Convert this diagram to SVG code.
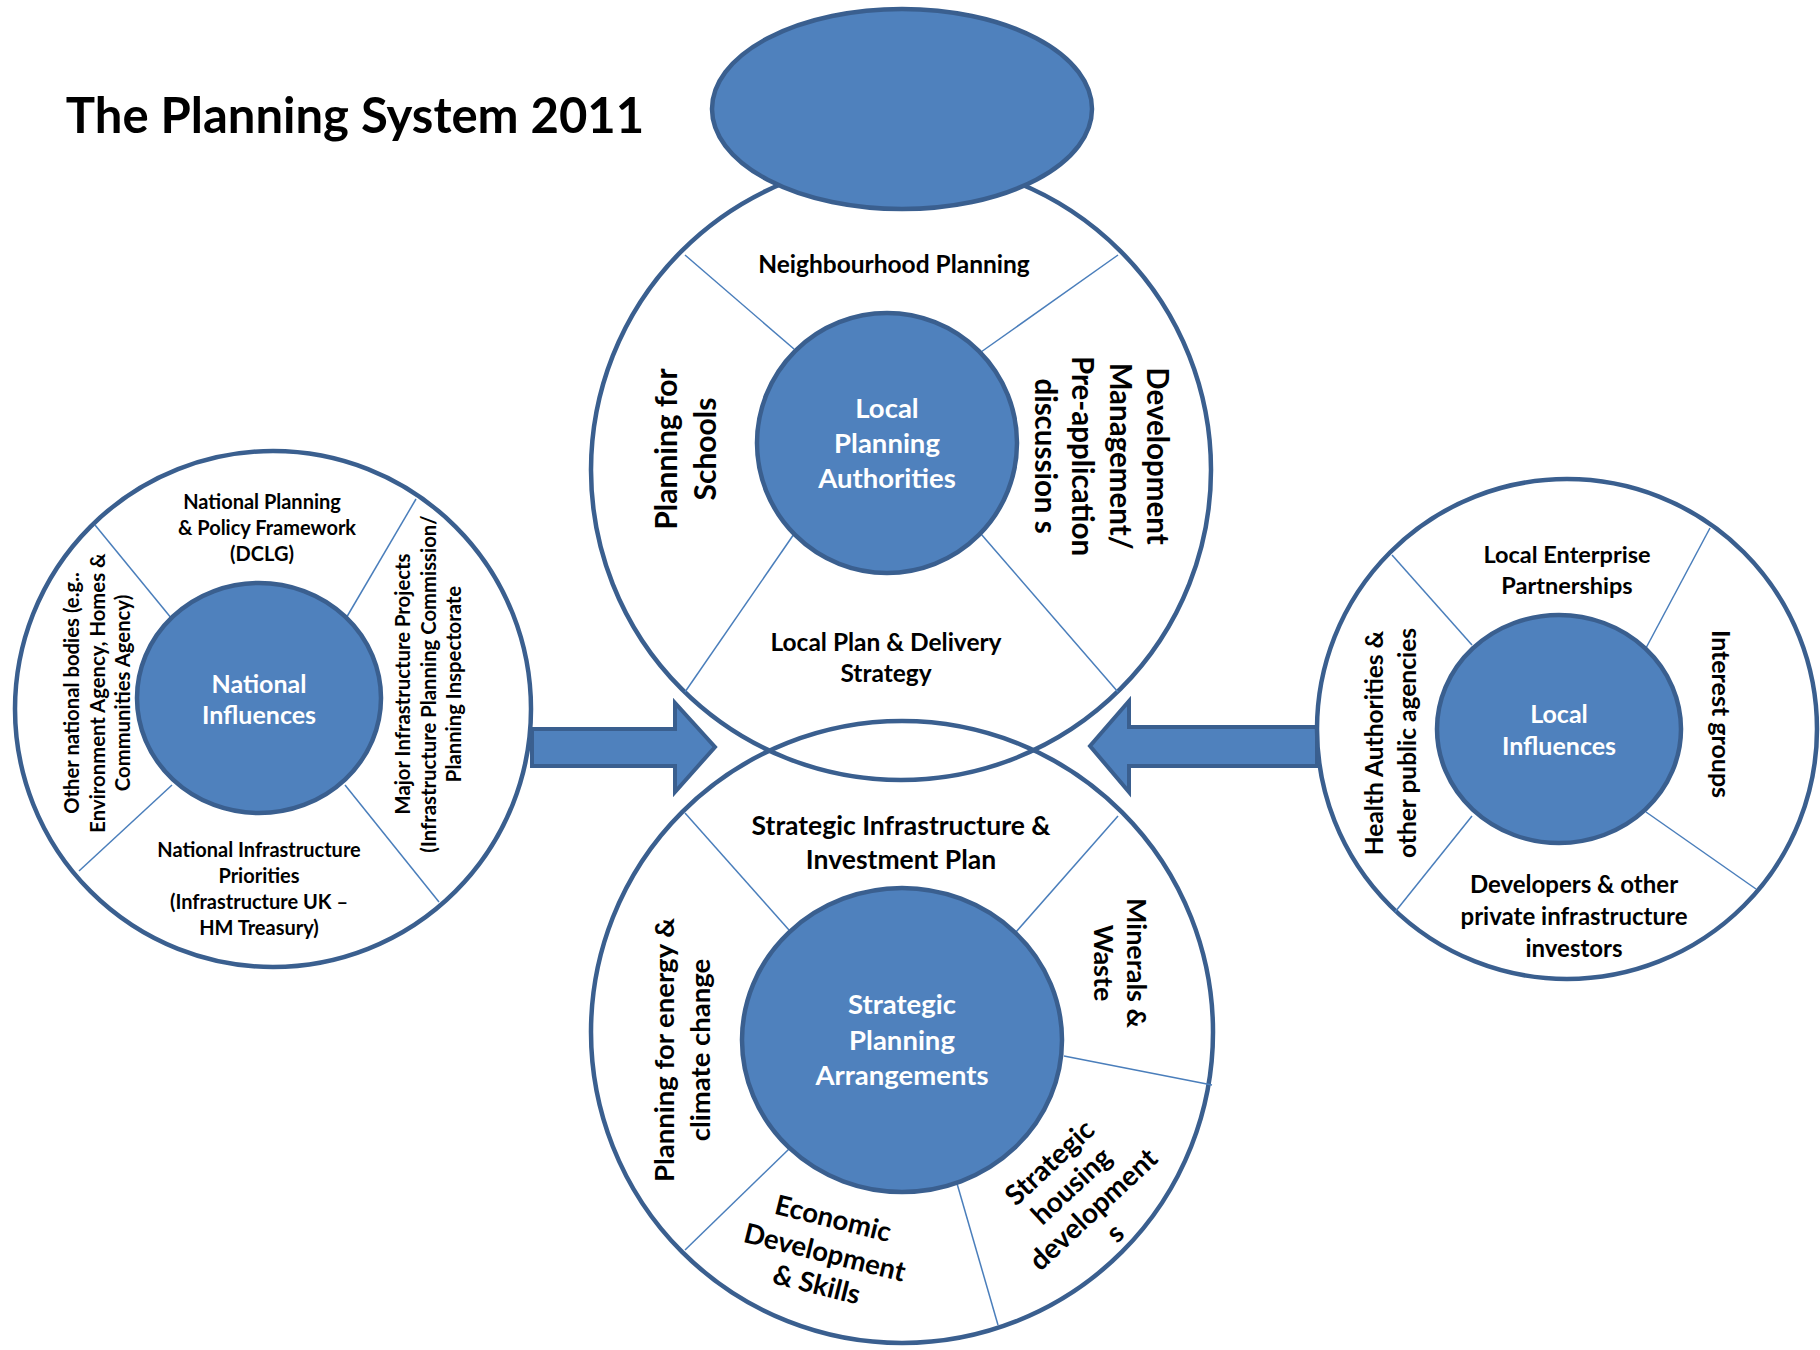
<svg xmlns="http://www.w3.org/2000/svg" width="1820" height="1350" viewBox="0 0 1820 1350">
<style>
.outer{fill:none;stroke:#3A5F8F;stroke-width:4.5}
.hub{fill:#4F81BD;stroke:#3A5F8F;stroke-width:4.5}
.div{stroke:#4A7EBB;stroke-width:1.5;fill:none}
.arrow{fill:#4F81BD;stroke:#3A5F8F;stroke-width:4;stroke-linejoin:miter}
text{font-family:Lato,"Open Sans","Liberation Sans",sans-serif;font-weight:bold;text-anchor:middle;fill:#000}
.w{fill:#fff}
</style>
<rect width="1820" height="1350" fill="#fff"/>
<text x="355" y="133" style="font-size:49px">The Planning System 2011</text>

<g id="connectors">
<polygon class="arrow" points="532,729 675,729 675,703 715,747 675,792 675,766 532,766"/>
<polygon class="arrow" points="1317,727 1129,727 1129,701 1090,746 1129,792 1129,766 1317,766"/>
</g>

<g id="local-planning">
<circle class="outer" cx="901" cy="470" r="310"/>
<line class="div" x1="685" y1="255" x2="794" y2="349"/>
<line class="div" x1="1118" y1="255" x2="981" y2="352"/>
<line class="div" x1="685" y1="692" x2="794" y2="534"/>
<line class="div" x1="1118" y1="692" x2="981" y2="534"/>
<circle class="hub" cx="887" cy="443" r="130"/>
<text class="w" x="887" y="418" style="font-size:27.5px">Local<tspan x="887" dy="35">Planning</tspan><tspan x="887" dy="35">Authorities</tspan></text>
<text x="894" y="273" style="font-size:24.5px">Neighbourhood Planning</text>
<text transform="translate(677,449) rotate(-90)" style="font-size:30px">Planning for<tspan x="0" dy="39">Schools</tspan></text>
<text transform="translate(1147,456) rotate(90)" style="font-size:29.5px">Development<tspan x="0" dy="37.5">Management/</tspan><tspan x="0" dy="37.5">Pre-application</tspan><tspan x="0" dy="37.5">discussion s</tspan></text>
<text x="886" y="651" style="font-size:24.5px">Local Plan &amp; Delivery<tspan x="886" dy="31">Strategy</tspan></text>
</g>

<g id="top-ellipse">
<ellipse class="hub" cx="902" cy="109" rx="190" ry="100"/>
</g>

<g id="strategic">
<circle class="outer" cx="902" cy="1032" r="311"/>
<line class="div" x1="685" y1="813" x2="789" y2="930"/>
<line class="div" x1="1118" y1="816" x2="1016" y2="932"/>
<line class="div" x1="685" y1="1250" x2="789" y2="1149"/>
<line class="div" x1="1064" y1="1056" x2="1212" y2="1085"/>
<line class="div" x1="956" y1="1180" x2="998" y2="1325"/>
<ellipse class="hub" cx="902" cy="1040" rx="160" ry="152"/>
<text class="w" x="902" y="1014" style="font-size:27.5px">Strategic<tspan x="902" dy="36">Planning</tspan><tspan x="902" dy="35">Arrangements</tspan></text>
<text x="901" y="835" style="font-size:26.5px">Strategic Infrastructure &amp;<tspan x="901" dy="34">Investment Plan</tspan></text>
<text transform="translate(674,1050) rotate(-90)" style="font-size:27.5px">Planning for energy &amp;<tspan x="0" dy="36">climate change</tspan></text>
<text transform="translate(1127,963) rotate(90)" style="font-size:27px">Minerals &amp;<tspan x="0" dy="33">Waste</tspan></text>
<text transform="translate(833,1219) rotate(14)" style="font-size:27.5px"><tspan x="0" dy="9">Economic</tspan><tspan x="0" dy="35">Development</tspan><tspan x="0" dy="33">&amp; Skills</tspan></text>
<text transform="translate(1050,1163) rotate(-43)" style="font-size:28px"><tspan x="0" dy="9">Strategic</tspan><tspan x="0" dy="32">housing</tspan><tspan x="0" dy="32">development</tspan><tspan x="0" dy="32">s</tspan></text>
</g>

<g id="national">
<circle class="outer" cx="273" cy="709" r="258"/>
<line class="div" x1="95" y1="525" x2="172" y2="619"/>
<line class="div" x1="416" y1="499" x2="345" y2="620"/>
<line class="div" x1="79" y1="871" x2="172" y2="785"/>
<line class="div" x1="439" y1="902" x2="345" y2="785"/>
<ellipse class="hub" cx="259" cy="698" rx="122" ry="115"/>
<text class="w" x="259" y="693" style="font-size:25px">National<tspan x="259" dy="31">Influences</tspan></text>
<text x="262" y="509" style="font-size:20px">National Planning<tspan x="267" dy="26">&amp; Policy Framework</tspan><tspan x="262" dy="26">(DCLG)</tspan></text>
<text transform="translate(79,693) rotate(-90)" style="font-size:20.3px">Other national bodies (e.g..<tspan x="0" dy="25.5">Environment Agency, Homes &amp;</tspan><tspan x="0" dy="25.5">Communities Agency)</tspan></text>
<text transform="translate(410,684) rotate(-90)" style="font-size:20.3px">Major Infrastructure Projects<tspan x="0" dy="25.5">(Infrastructure Planning Commission/</tspan><tspan x="0" dy="25.5">Planning Inspectorate</tspan></text>
<text x="259" y="857" style="font-size:20px">National Infrastructure<tspan x="259" dy="26">Priorities</tspan><tspan x="259" dy="26">(Infrastructure UK –</tspan><tspan x="259" dy="26">HM Treasury)</tspan></text>
</g>

<g id="local-influences">
<circle class="outer" cx="1567" cy="729" r="250"/>
<line class="div" x1="1392" y1="555" x2="1472" y2="645"/>
<line class="div" x1="1710" y1="528" x2="1646" y2="648"/>
<line class="div" x1="1395" y1="912" x2="1472" y2="816"/>
<line class="div" x1="1756" y1="889" x2="1646" y2="812"/>
<ellipse class="hub" cx="1559" cy="729" rx="122" ry="114"/>
<text class="w" x="1559" y="723" style="font-size:25px">Local<tspan x="1559" dy="32">Influences</tspan></text>
<text x="1567" y="563" style="font-size:23.5px">Local Enterprise<tspan x="1567" dy="31">Partnerships</tspan></text>
<text transform="translate(1383,743) rotate(-90)" style="font-size:24.5px">Health Authorities &amp;<tspan x="0" dy="33">other public agencies</tspan></text>
<text transform="translate(1712,714) rotate(90)" style="font-size:25px">Interest groups</text>
<text x="1574" y="893" style="font-size:24px">Developers &amp; other<tspan x="1574" dy="32">private infrastructure</tspan><tspan x="1574" dy="32">investors</tspan></text>
</g>
</svg>
